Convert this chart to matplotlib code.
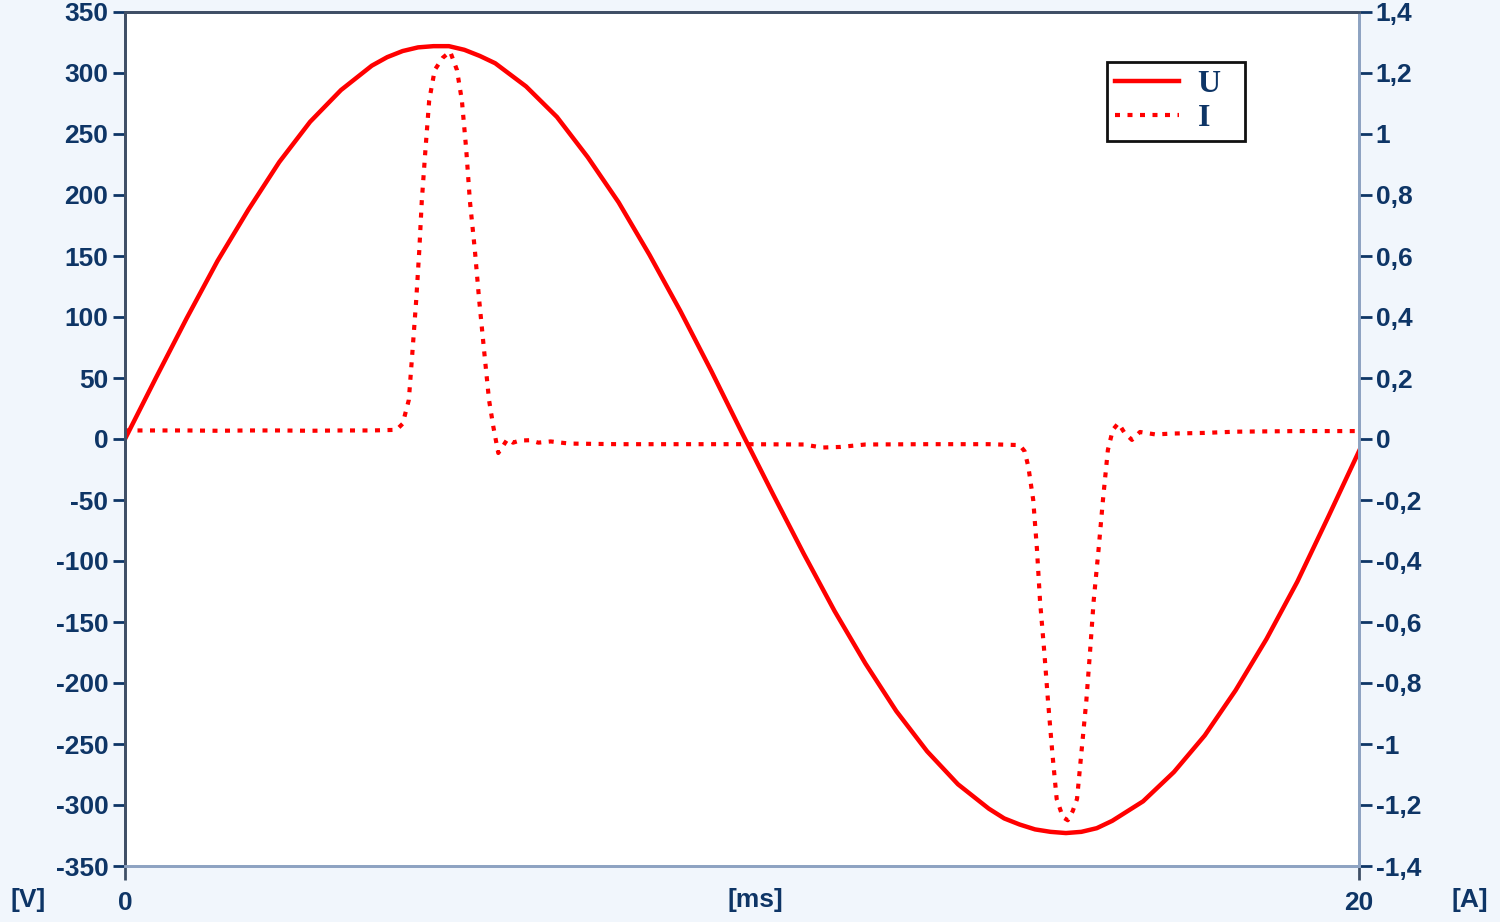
import matplotlib
matplotlib.use("Agg")
import matplotlib.pyplot as plt
from matplotlib.ticker import FuncFormatter, FixedLocator

# Spannung U [V] ueber Zeit [ms]
t_u = [0.0, 0.5, 1.0, 1.5, 2.0, 2.5, 3.0, 3.5, 4.0, 4.25, 4.5, 4.75, 5.0,
       5.25, 5.5, 5.75, 6.0, 6.5, 7.0, 7.5, 8.0, 8.5, 9.0, 9.5, 10.0, 10.5,
       11.0, 11.5, 12.0, 12.5, 13.0, 13.5, 14.0, 14.25, 14.5, 14.75, 15.0,
       15.25, 15.5, 15.75, 16.0, 16.5, 17.0, 17.5, 18.0, 18.5, 19.0, 19.5,
       20.0]
u = [0, 50, 99, 146, 188, 227, 260, 286, 306, 313, 318, 321, 322,
     322, 319, 314, 308, 289, 264, 231, 194, 151, 105, 56, 5, -45,
     -94, -141, -184, -223, -256, -283, -303, -311, -316, -320, -322,
     -323, -322, -319, -313, -297, -273, -243, -206, -164, -117, -64,
     -10]

# Strom I [A] ueber Zeit [ms]
t_i = [0.0, 0.5, 1.0, 1.5, 2.0, 2.5, 3.0, 3.5, 4.0, 4.4, 4.5, 4.6, 4.66,
       4.72, 4.77, 4.81, 4.87, 4.93, 5.02, 5.15, 5.27, 5.38, 5.46, 5.53,
       5.59, 5.67, 5.74, 5.82, 5.9, 5.97, 6.05, 6.12, 6.2, 6.29, 6.4, 6.56,
       6.7, 6.9, 7.2, 7.6, 8.0, 9.0, 10.0, 11.0, 11.3, 11.6, 12.0, 13.0,
       14.0, 14.5, 14.58, 14.64, 14.72, 14.78, 14.83, 14.9, 14.96, 15.03,
       15.1, 15.2, 15.28, 15.36, 15.43, 15.5, 15.58, 15.64, 15.7, 15.78,
       15.85, 15.93, 16.01, 16.1, 16.2, 16.32, 16.45, 16.7, 17.0, 17.5,
       18.0, 19.0, 20.0]
i = [0.028, 0.028, 0.028, 0.027, 0.028, 0.028, 0.027, 0.028, 0.028, 0.03,
     0.05, 0.128, 0.29, 0.456, 0.62, 0.78, 0.95, 1.11, 1.21, 1.25, 1.27,
     1.21, 1.11, 0.95, 0.78, 0.62, 0.456, 0.29, 0.128, 0.04, -0.046,
     -0.025, 0.0, -0.012, -0.005, -0.004, -0.012, -0.008, -0.015, -0.016,
     -0.017, -0.017, -0.017, -0.018, -0.028, -0.026, -0.018, -0.017,
     -0.017, -0.02, -0.04, -0.09, -0.2, -0.36, -0.53, -0.7, -0.86, -1.03,
     -1.18, -1.24, -1.25, -1.22, -1.18, -1.03, -0.86, -0.7, -0.53, -0.36,
     -0.2, -0.036, 0.03, 0.052, 0.02, -0.003, 0.023, 0.015, 0.018, 0.02,
     0.024, 0.026, 0.026]

u_ticks = list(range(-350, 351, 50))
i_ticks = [-1.4, -1.2, -1.0, -0.8, -0.6, -0.4, -0.2, 0.0,
           0.2, 0.4, 0.6, 0.8, 1.0, 1.2, 1.4]

BG = "#F1F6FC"
TXT = "#0E3566"
ROT = "#FF0000"
FONT = "Liberation Sans"


def fmt_i(v, pos):
    s = f"{v:.1f}".rstrip("0").rstrip(".")
    if s in ("-0", ""):
        s = "0"
    return s.replace(".", ",")


fig = plt.figure(figsize=(15, 9.22), dpi=100, facecolor=BG)
ax = fig.add_axes([125 / 1500, 1 - 866 / 922, 1234 / 1500, 854 / 922])
ax.set_facecolor("white")
ax2 = ax.twinx()

l_u, = ax.plot(t_u, u, color=ROT, lw=3.2, label="U  ", solid_joinstyle="round")
l_i, = ax2.plot(t_i, i, color=ROT, lw=3.0, ls=(0, (1.2, 1.8)), label="I  ")

ax.set_xlim(0, 20)
ax.set_ylim(-350, 350)
ax2.set_ylim(-1.4, 1.4)

ax.yaxis.set_major_locator(FixedLocator(u_ticks))
ax.yaxis.set_major_formatter(FuncFormatter(lambda v, p: str(int(round(v)))))
ax2.yaxis.set_major_locator(FixedLocator(i_ticks))
ax2.yaxis.set_major_formatter(FuncFormatter(fmt_i))
ax.xaxis.set_major_locator(FixedLocator([0, 20]))
ax.xaxis.set_major_formatter(FuncFormatter(lambda v, p: str(int(v))))

for a in (ax, ax2):
    for sp in a.spines.values():
        sp.set_linewidth(2)
    a.spines["left"].set_color("#3F4F66")
    a.spines["top"].set_color("#3F4F66")
    a.spines["right"].set_color("#8EA3C2")
    a.spines["bottom"].set_color("#8EA3C2")

ax.tick_params(axis="y", length=9, width=2, color=TXT, pad=3,
               labelsize=19, labelcolor=TXT)
ax2.tick_params(axis="y", length=9, width=2, color=TXT, pad=3,
                labelsize=19, labelcolor=TXT)
ax.tick_params(axis="x", length=10, width=2, color="#3F4F66", pad=8,
               labelsize=19, labelcolor=TXT)
for lab in ax.get_yticklabels() + ax2.get_yticklabels() + ax.get_xticklabels():
    lab.set_fontfamily(FONT)
    lab.set_fontweight("bold")

for x, s in [(28, "[V]"), (755, "[ms]"), (1470, "[A]")]:
    fig.text(x / 1500, 1 - 900 / 922, s, ha="center", va="center",
             fontsize=19, fontweight="bold", color=TXT, family=FONT)

leg = ax.legend(handles=[l_u, l_i], loc="upper right",
                bbox_to_anchor=(0.9076, 0.9415), borderaxespad=0,
                frameon=True, fancybox=False, framealpha=1,
                edgecolor="#111111", handlelength=2.0, handletextpad=0.6,
                borderpad=0.25, labelspacing=0.15,
                prop={"family": "Liberation Serif", "weight": "bold", "size": 23})
leg.get_frame().set_linewidth(2)
for txt in leg.get_texts():
    txt.set_color(TXT)

fig.savefig("out.png", dpi=100, facecolor=BG)
